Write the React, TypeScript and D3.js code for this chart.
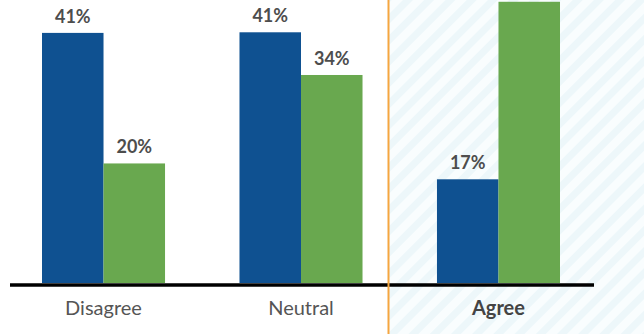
import React from "react";
import * as d3 from "d3";

const categories = ["Disagree", "Neutral", "Agree"];
const seriesKeys = ["before", "after"];
const beforeValues = [41.0, 41.1, 17.0];
const afterValues = [19.6, 34.1, 46.1];
const seriesColors = ["#0f5191", "#69a84f"];

const W = 644;
const H = 334;
const baseY = 283;

export default function App() {
  const x = d3.scaleBand<string>().domain(categories).range([42, 560]).paddingInner(0.377).paddingOuter(0);
  const xi = d3.scaleBand<string>().domain(seriesKeys).range([0, x.bandwidth()]).padding(0);
  const y = d3.scaleLinear().domain([0, 50]).range([baseY, baseY - 305]);
  const fmt = (v: number) => `${Math.round(v)}%`;
  const dividerX = 388.5;

  const bars: { cat: string; key: string; v: number; color: string }[] = [];
  categories.forEach((c, i) => {
    bars.push({ cat: c, key: "before", v: beforeValues[i], color: seriesColors[0] });
    bars.push({ cat: c, key: "after", v: afterValues[i], color: seriesColors[1] });
  });

  return (
    <div style={{ position: "absolute", left: 0, top: 0 }}>
      <svg width={W} height={H} style={{ display: "block" }}>
        <defs>
          <pattern id="hatch" width="15" height="15" patternUnits="userSpaceOnUse" patternTransform="rotate(45)">
            <rect width="15" height="15" fill="#f9fdfe" />
            <rect width="7" height="15" fill="#edf7fa" />
          </pattern>
        </defs>
        <rect x={dividerX} y={0} width={W - dividerX} height={H} fill="url(#hatch)" />
        {bars.map((b, i) => {
          const bx = (x(b.cat) ?? 0) + (xi(b.key) ?? 0);
          const top = y(b.v);
          const showLabel = top - 10 > 16;
          return (
            <g key={i}>
              <rect x={bx} y={top} width={xi.bandwidth()} height={baseY - top} fill={b.color} />
              {showLabel && (
                <text
                  x={bx + xi.bandwidth() / 2}
                  y={top - 10}
                  textAnchor="middle"
                  fontFamily="Lato, 'Open Sans', sans-serif"
                  fontWeight={700}
                  fontSize={18}
                  fill="#4d4d4d"
                >
                  {fmt(b.v)}
                </text>
              )}
            </g>
          );
        })}
        <line x1={10} x2={594} y1={285} y2={285} stroke="#000" strokeWidth={3.5} />
        <line x1={dividerX} x2={dividerX} y1={0} y2={H} stroke="#f5a640" strokeWidth={2} />
        {categories.map((c, i) => (
          <text
            key={c}
            x={(x(c) ?? 0) + x.bandwidth() / 2}
            y={315}
            textAnchor="middle"
            fontFamily="Lato, 'Open Sans', sans-serif"
            fontWeight={i === 2 ? 700 : 400}
            fontSize={20}
            fill={i === 2 ? "#444" : "#555"}
          >
            {c}
          </text>
        ))}
      </svg>
    </div>
  );
}
